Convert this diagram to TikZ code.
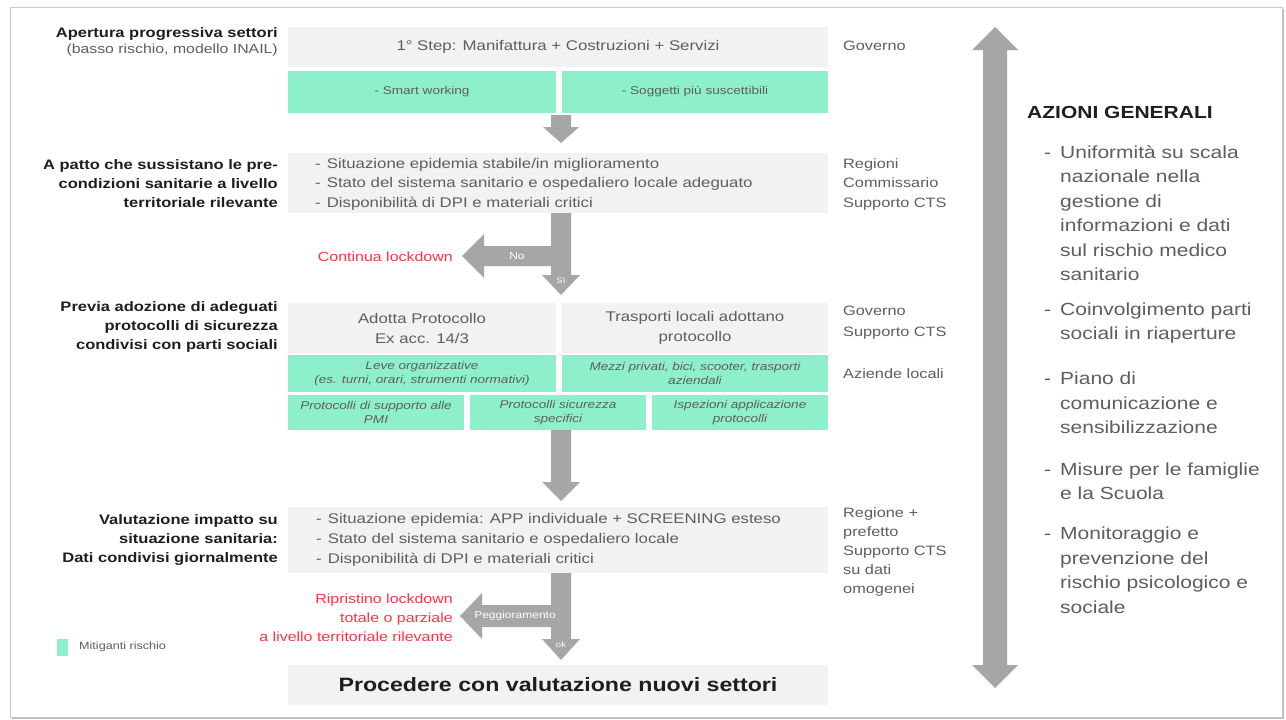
\documentclass[tikz,border=0pt]{standalone}
\usepackage{fontspec}
\setmainfont{Liberation Sans}[FakeStretch=1.2]
\definecolor{boxgray}{HTML}{F2F2F2}
\definecolor{mint}{HTML}{8EF0CB}
\definecolor{arrowgray}{HTML}{A6A6A6}
\definecolor{txtgray}{HTML}{5E5E5E}
\definecolor{lblred}{HTML}{FF3347}
\definecolor{framegray}{HTML}{C8C8C8}
\definecolor{darktxt}{HTML}{1E1E1E}
\newcommand{\bul}{\llap{-\hspace{9pt}}}
\tikzset{
  graybox/.style={fill=boxgray, draw=none, inner sep=0pt, text=txtgray, align=center,
    font=\fontsize{14}{20}\selectfont},
  greenbox/.style={fill=mint, draw=none, inner sep=0pt, text=txtgray, align=center,
    font=\fontsize{11.3}{14}\selectfont},
  greenit/.style={greenbox, font=\itshape\fontsize{11.3}{14}\selectfont},
  boxtext/.style={inner sep=0pt, anchor=west, align=left, text=txtgray},
  leftlbl/.style={inner sep=0pt, anchor=east, align=right, text=darktxt,
    font=\bfseries\fontsize{13.75}{19}\selectfont},
  rightlbl/.style={inner sep=0pt, anchor=west, align=left, text=txtgray,
    font=\fontsize{13.6}{19.5}\selectfont},
  redlbl/.style={inner sep=0pt, anchor=east, align=right, text=lblred,
    font=\fontsize{13.3}{19}\selectfont},
  blockarrow/.style={fill=arrowgray, draw=none},
  arrowlbl/.style={inner sep=0pt, text=white, font=\fontsize{10}{12}\selectfont},
  listtext/.style={inner sep=0pt, anchor=west, align=left, text=txtgray,
    font=\fontsize{17.5}{24.5}\selectfont},
}
\begin{document}
\begin{tikzpicture}[x=1pt,y=-1pt]
\useasboundingbox (0,0) rectangle (1286,720);
\fill[white] (0,0) rectangle (1286,720);
% frame with slight shadow
\draw[gray!55, line width=2pt] (1283,9) -- (1283,718) -- (12,718);
\draw[framegray, line width=1pt] (10,7) rectangle (1282,717);

% ---------- step 1 ----------
\node[leftlbl] (L1a) at (278,34) {Apertura progressiva settori};
\node[leftlbl, font=\fontsize{13.2}{16}\selectfont, text=txtgray] (L1b) at (278,50) {(basso rischio, modello INAIL)};
\node[graybox, minimum width=540pt, minimum height=40pt] (s1) at (558,47) {1° Step: Manifattura + Costruzioni + Servizi};
\node[greenbox, minimum width=268pt, minimum height=42pt] (m1) at (422,92) {- Smart working};
\node[greenbox, minimum width=266pt, minimum height=42pt] (m2) at (695,92) {- Soggetti più suscettibili};
\node[rightlbl] (g1) at (843,46) {Governo};
% small down arrow
\fill[blockarrow] (551,115) -- (571,115) -- (571,127) -- (579,127) -- (561,143) -- (543,127) -- (551,127) -- cycle;

% ---------- step 2 ----------
\node[leftlbl] (L2) at (278,184) {A patto che sussistano le pre-\\condizioni sanitarie a livello\\territoriale rilevante};
\node[graybox, minimum width=540pt, minimum height=60pt] (s2) at (558,183) {};
\node[boxtext, font=\fontsize{14}{19.5}\selectfont] (s2t) at (315,184)
  {-\hspace{6pt}Situazione epidemia stabile/in miglioramento\\
   -\hspace{6pt}Stato del sistema sanitario e ospedaliero locale adeguato\\
   -\hspace{6pt}Disponibilità di DPI e materiali critici};
\node[rightlbl] (g2) at (843,184) {Regioni\\Commissario\\Supporto CTS};
% T arrow (No / Si)
\fill[blockarrow] (571,213) -- (571,275) -- (580,275) -- (561,295) -- (542,275) -- (551,275)
  -- (551,266) -- (484,266) -- (484,278) -- (462,256) -- (484,234) -- (484,246) -- (551,246) -- (551,213) -- cycle;
\node[arrowlbl] (no) at (517,256) {No};
\node[arrowlbl, font=\fontsize{8}{9}\selectfont] (si) at (561,281) {Sì};
\node[redlbl] (r1) at (453,257) {Continua lockdown};

% ---------- step 3 ----------
\node[leftlbl] (L3) at (278,327) {Previa adozione di adeguati\\protocolli di sicurezza\\condivisi con parti sociali};
\node[graybox, minimum width=268pt, minimum height=50pt] (p1) at (422,328) {Adotta Protocollo\\Ex acc. 14/3};
\node[graybox, minimum width=266pt, minimum height=50pt] (p2) at (695,328) {Trasporti locali adottano\\protocollo};
\node[greenit, minimum width=268pt, minimum height=37pt] (l1) at (422,373.5) {Leve organizzative\\(es. turni, orari, strumenti normativi)};
\node[greenit, minimum width=266pt, minimum height=37pt] (l2) at (695,373.5) {Mezzi privati, bici, scooter, trasporti\\aziendali};
\node[greenit, minimum width=176pt, minimum height=35pt] (q1) at (376,412.5) {Protocolli di supporto alle\\PMI};
\node[greenit, minimum width=176pt, minimum height=35pt] (q2) at (558,412.5) {Protocolli sicurezza\\specifici};
\node[greenit, minimum width=176pt, minimum height=35pt] (q3) at (740,412.5) {Ispezioni applicazione\\protocolli};
\node[rightlbl, font=\fontsize{13.6}{21}\selectfont] (g3) at (843,322.5) {Governo\\Supporto CTS};
\node[rightlbl] (g4) at (843,374) {Aziende locali};
% down arrow
\fill[blockarrow] (551,430) -- (571,430) -- (571,482) -- (580,482) -- (561,501) -- (542,482) -- (551,482) -- cycle;

% ---------- step 4 ----------
\node[leftlbl] (L4) at (278,540) {Valutazione impatto su\\situazione sanitaria:\\Dati condivisi giornalmente};
\node[graybox, minimum width=540pt, minimum height=66pt] (s4) at (558,540) {};
\node[boxtext, font=\fontsize{14}{20}\selectfont] (s4t) at (316,540)
  {-\hspace{6pt}Situazione epidemia: APP individuale + SCREENING esteso\\
   -\hspace{6pt}Stato del sistema sanitario e ospedaliero locale\\
   -\hspace{6pt}Disponibilità di DPI e materiali critici};
\node[rightlbl, font=\fontsize{13.6}{19}\selectfont] (g5) at (843,552) {Regione +\\prefetto\\Supporto CTS\\su dati\\omogenei};
% T arrow (Peggioramento / ok)
\fill[blockarrow] (571,573) -- (571,639) -- (580,639) -- (561,660) -- (542,639) -- (551,639)
  -- (551,627) -- (482,627) -- (482,639) -- (460,616) -- (482,593) -- (482,605) -- (551,605) -- (551,573) -- cycle;
\node[arrowlbl] (pg) at (515,616) {Peggioramento};
\node[arrowlbl, font=\fontsize{8}{9}\selectfont] (ok) at (561,645) {ok};
\node[redlbl] (r2) at (453,618) {Ripristino lockdown\\totale o parziale\\a livello territoriale rilevante};

% legend
\fill[mint] (57,639) rectangle (68,656);
\node[inner sep=0pt, anchor=west, text=txtgray, font=\fontsize{10.5}{12}\selectfont] (leg) at (79,647) {Mitiganti rischio};

% final box
\node[graybox, minimum width=540pt, minimum height=40pt, text=darktxt, font=\bfseries\fontsize{19.3}{22}\selectfont] (fin) at (558,685) {Procedere con valutazione nuovi settori};

% ---------- right panel ----------
\fill[blockarrow] (995,27) -- (1018,50) -- (1007,50) -- (1007,665) -- (1018,665) -- (995,688)
  -- (972,665) -- (983,665) -- (983,50) -- (972,50) -- cycle;
\node[inner sep=0pt, anchor=west, text=darktxt, font=\bfseries\fontsize{17.5}{20}\selectfont] (az) at (1027,112) {AZIONI GENERALI};
\node[listtext] (t1) at (1060,213) {\bul Uniformità su scala\\nazionale nella\\gestione di\\informazioni e dati\\sul rischio medico\\sanitario};
\node[listtext] (t2) at (1060,323) {\bul Coinvolgimento parti\\sociali in riaperture};
\node[listtext] (t3) at (1060,403) {\bul Piano di\\comunicazione e\\sensibilizzazione};
\node[listtext] (t4) at (1060,481) {\bul Misure per le famiglie\\e la Scuola};
\node[listtext] (t5) at (1060,570) {\bul Monitoraggio e\\prevenzione del\\rischio psicologico e\\sociale};
\end{tikzpicture}
\end{document}
